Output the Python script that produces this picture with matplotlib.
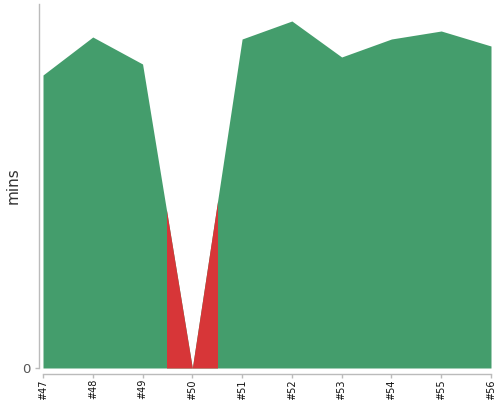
import matplotlib
matplotlib.use("Agg")
import matplotlib.pyplot as plt
from matplotlib.patches import Rectangle

# build numbers, durations (mins) and build result
builds = [47, 48, 49, 50, 51, 52, 53, 54, 55, 56]
durations = [293, 331, 304, 0, 329, 347, 311, 329, 337, 322]
results = ["success", "success", "success", "failure", "success",
           "success", "success", "success", "success", "success"]
tick_labels = [f"#{b}" for b in builds]

GREEN = "#449d6c"
RED = "#d73638"

fig = plt.figure(figsize=(5, 4), dpi=100)
ax = fig.add_axes([0.086, 0.08, 0.896, 0.91])

ax.fill_between(builds, durations, 0, color=GREEN, linewidth=0)

# failed builds are red, from half way to the previous build to half way to the next one
for b, r in zip(builds, results):
    if r != "failure":
        continue
    red = ax.fill_between(builds, durations, 0, color=RED, linewidth=0)
    clip = Rectangle((b - 0.5, -10), 1, 1000, transform=ax.transData)
    red.set_clip_path(clip)

# spines first: moving them recreates the ticks
for side in ["top", "right"]:
    ax.spines[side].set_visible(False)
ax.spines["left"].set_position(("outward", 3))
ax.spines["bottom"].set_position(("outward", 4))
for side in ["left", "bottom"]:
    ax.spines[side].set_color("#bbbbbb")
    ax.spines[side].set_linewidth(1)

ax.set_xlim(builds[0], builds[-1])
ax.set_ylim(0, 364)
ax.set_xticks(builds)
ax.set_xticklabels(tick_labels)
ax.set_yticks([0])
ax.set_yticklabels(["0"])
ax.set_ylabel("mins", fontsize=11, color="#333")
ax.yaxis.set_label_coords(-0.05, 0.5)

ax.tick_params(axis="both", colors="#bbbbbb", length=3, width=1)
ax.tick_params(axis="x", labelcolor="#111", labelsize=7, pad=1, labelrotation=90)
ax.tick_params(axis="y", labelcolor="#555", labelsize=9.5, pad=3)

fig.savefig("out.png", dpi=100)
